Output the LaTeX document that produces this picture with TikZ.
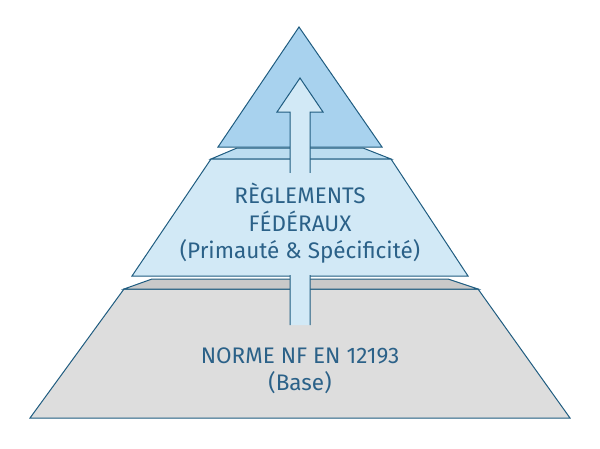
\documentclass[tikz,border=0pt]{standalone}
\usepackage{fontspec}
\setmainfont{Fira Sans}
\usetikzlibrary{positioning}
\definecolor{edgeblue}{HTML}{1F5C80}
\definecolor{textblue}{HTML}{2B6188}
\definecolor{topblue}{HTML}{A8D2EE}
\definecolor{midblue}{HTML}{D2E9F6}
\definecolor{midface}{HTML}{BCDDF0}
\definecolor{basegray}{HTML}{DDDDDD}
\definecolor{baseface}{HTML}{C9C9C9}
\tikzset{
  layer/.style = {draw=edgeblue, line width=1pt, line join=miter},
  label_t/.style = {text=textblue, font=\fontsize{22.5}{26}\selectfont,
    align=center, inner sep=0pt},
}
\begin{document}
\begin{tikzpicture}[x=1pt,y=-1pt]
\useasboundingbox (0,0) rectangle (600,448);
% base
\draw[layer, fill=basegray] (124,289) -- (478,289) -- (570,418) -- (30,418) -- cycle;
\draw[layer, fill=baseface] (152,279) -- (448,279) -- (478,289) -- (124,289) -- cycle;
% federal rules
\draw[layer, fill=midface] (237,148) -- (363,148) -- (391,159) -- (211,159) -- cycle;
\draw[layer, fill=midblue] (211,159) -- (391,159) -- (468,276) -- (132,276) -- cycle;
% top
\draw[layer, fill=topblue] (299,27) -- (382,147) -- (218,147) -- cycle;
% arrow
\draw[layer, fill=midblue] (290,325) -- (290,112) -- (277,112) -- (300,78)
  -- (323,112) -- (310,112) -- (310,325);
\fill[midblue] (289,173) rectangle (311,275.4);
% labels
\node[label_t] (regl) at (300,193) {RÈGLEMENTS};
\node[label_t] (fed) [below=7pt of regl] {FÉDÉRAUX};
\node[label_t] (prim) [below=8pt of fed] {(Primauté \& Spécificité)};
\node[label_t] (norme) at (300,356) {NORME NF EN 12193};
\node[label_t] (base) [below=7pt of norme] {(Base)};
\end{tikzpicture}
\end{document}
